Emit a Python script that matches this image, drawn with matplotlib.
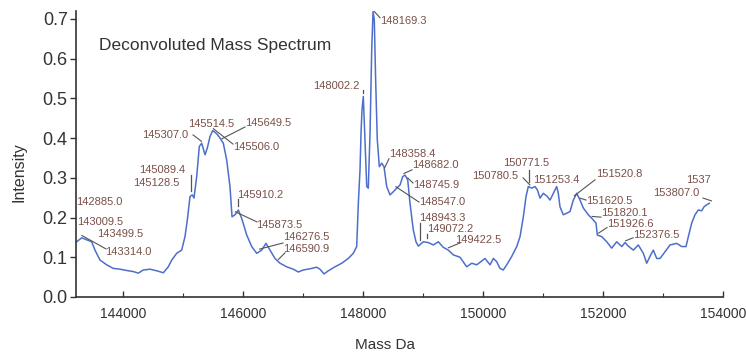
import numpy as np
import matplotlib
matplotlib.use("Agg")
from matplotlib import pyplot as plt
from matplotlib.ticker import MultipleLocator, FormatStrFormatter

# deconvoluted spectrum, mass (Da) vs intensity
mass = [143228, 143312, 143395, 143478, 143533, 143617, 143728, 143838, 143950, 144088,
        144172, 144255, 144338, 144450, 144562, 144672, 144755, 144812, 144895, 144978,
        145033, 145072, 145117, 145155, 145183, 145228, 145272, 145312, 145367, 145405,
        145450, 145495, 145562, 145617, 145672, 145728, 145783, 145817, 145867, 145922,
        145978, 146062, 146145, 146228, 146312, 146383, 146450, 146533, 146617, 146728,
        146838, 146922, 147005, 147117, 147228, 147283, 147350, 147422, 147533, 147645,
        147755, 147838, 147895, 147922, 147950, 147967, 147983, 148005, 148033, 148062,
        148088, 148117, 148145, 148167, 148188, 148212, 148238, 148272, 148312, 148350,
        148395, 148450, 148505, 148562, 148617, 148662, 148700, 148745, 148783, 148838,
        148883, 148922, 149005, 149088, 149172, 149255, 149338, 149422, 149505, 149617,
        149728, 149812, 149895, 150033, 150117, 150172, 150228, 150283, 150338, 150395,
        150478, 150562, 150617, 150672, 150717, 150755, 150812, 150867, 150905, 150950,
        151005, 151072, 151117, 151172, 151228, 151255, 151283, 151338, 151395, 151450,
        151505, 151562, 151617, 151672, 151755, 151838, 151883, 151905, 151978, 152062,
        152145, 152228, 152312, 152367, 152422, 152505, 152588, 152672, 152728, 152795,
        152838, 152895, 152950, 153033, 153117, 153228, 153312, 153383, 153422, 153478,
        153533, 153588, 153645, 153683, 153728, 153772]
intensity = [0.139, 0.149, 0.144, 0.139, 0.118, 0.093, 0.081, 0.072, 0.070, 0.066,
             0.064, 0.060, 0.068, 0.070, 0.066, 0.061, 0.076, 0.093, 0.110, 0.118,
             0.152, 0.194, 0.253, 0.257, 0.249, 0.303, 0.379, 0.387, 0.358, 0.375,
             0.404, 0.419, 0.411, 0.400, 0.387, 0.345, 0.278, 0.202, 0.207, 0.219,
             0.198, 0.156, 0.127, 0.110, 0.118, 0.135, 0.118, 0.097, 0.085, 0.076,
             0.070, 0.063, 0.068, 0.071, 0.075, 0.070, 0.058, 0.066, 0.076, 0.085,
             0.097, 0.110, 0.127, 0.236, 0.320, 0.413, 0.471, 0.505, 0.396, 0.278,
             0.274, 0.412, 0.622, 0.718, 0.698, 0.538, 0.396, 0.328, 0.337, 0.328,
             0.278, 0.257, 0.265, 0.274, 0.282, 0.303, 0.307, 0.295, 0.236, 0.169,
             0.139, 0.128, 0.139, 0.137, 0.131, 0.139, 0.125, 0.118, 0.106, 0.100,
             0.076, 0.085, 0.081, 0.097, 0.081, 0.097, 0.089, 0.072, 0.068, 0.081,
             0.102, 0.127, 0.152, 0.202, 0.253, 0.278, 0.274, 0.278, 0.270, 0.249,
             0.261, 0.253, 0.244, 0.261, 0.278, 0.261, 0.227, 0.207, 0.211, 0.215,
             0.244, 0.261, 0.244, 0.224, 0.207, 0.194, 0.186, 0.156, 0.152, 0.139,
             0.123, 0.139, 0.127, 0.137, 0.128, 0.118, 0.131, 0.110, 0.085, 0.106,
             0.118, 0.097, 0.097, 0.114, 0.131, 0.135, 0.127, 0.127, 0.152, 0.186,
             0.207, 0.219, 0.217, 0.227, 0.232, 0.236]

# peak labels
peak_labels = ["142885.0", "143009.5", "143499.5", "143314.0", "145089.4", "145128.5",
               "145307.0", "145514.5", "145649.5", "145506.0", "145910.2", "145873.5",
               "146276.5", "146590.9", "148002.2", "148169.3", "148358.4", "148682.0",
               "148745.9", "148547.0", "148943.3", "149072.2", "149422.5", "150771.5",
               "150780.5", "151253.4", "151520.8", "151620.5", "151820.1", "151926.6",
               "152376.5", "1537", "153807.0"]

# where each label sits (left edge, vertical centre) and how its leader is drawn:
# 'line' -> slanted line to the given end point, 'tick' -> short vertical mark
label_pos = [(143225, 0.239), (143233, 0.189), (143567, 0.159), (143700, 0.113),
             (144267, 0.320), (144167, 0.287), (144317, 0.408), (145083, 0.436),
             (146033, 0.438), (145833, 0.378), (145900, 0.257), (146217, 0.181),
             (146667, 0.151), (146667, 0.121), (147167, 0.532), (148283, 0.695),
             (148433, 0.360), (148817, 0.333), (148833, 0.282), (148933, 0.239),
             (148933, 0.199), (149067, 0.171), (149533, 0.144), (150333, 0.338),
             (149817, 0.305), (150833, 0.295), (151883, 0.310), (151717, 0.241),
             (151967, 0.212), (152067, 0.185), (152500, 0.156), (153383, 0.295),
             (152833, 0.262)]
leaders = [None, None, None, ('line', 143717, 0.121),
           None, ('tick', 0.307), ('line', 145167, 0.408), None,
           ('line', 146033, 0.428), ('line', 145833, 0.385), ('tick', 0.246), ('line', 146233, 0.189),
           ('line', 146667, 0.136), ('line', 146700, 0.111), ('tick', 0.522), ('line', 148283, 0.703),
           ('line', 148433, 0.348), ('line', 148817, 0.320), ('line', 148833, 0.287), ('line', 148933, 0.239),
           ('tick', 0.186), ('tick', 0.158), ('line', 149617, 0.136), ('tick', 0.320),
           ('line', 150667, 0.300), None, ('line', 151867, 0.295), ('line', 151717, 0.244),
           ('line', 151967, 0.201), ('line', 152067, 0.175), ('line', 152500, 0.149), None,
           ('line', 153667, 0.249)]

plt.rcParams['font.family'] = ['Liberation Sans', 'DejaVu Sans']

fig = plt.figure(figsize=(7.46, 3.58), dpi=100)
ax = fig.add_axes([0.1019, 0.1704, 0.8673, 0.7989])

ax.plot(mass, intensity, color='#4d6fcb', linewidth=1.1)

label_color = '#7a5048'
lead_color = '#555555'
for text, (tx, ty), lead in zip(peak_labels, label_pos, leaders):
    ax.text(tx, ty, text, fontsize=8, color=label_color, ha='left', va='center',
            clip_on=False)
    if lead is None:
        continue
    m = float(text)
    y0 = np.interp(m, mass, intensity)
    if lead[0] == 'tick':
        ax.plot([m, m], [y0 + 0.012, lead[1]], color=lead_color, linewidth=0.9)
    else:
        ax.plot([m, lead[1]], [y0 + 0.006, lead[2]], color=lead_color, linewidth=0.8)

ax.text(0.035, 0.88, 'Deconvoluted Mass Spectrum', transform=ax.transAxes,
        fontsize=12.5, color='#333333', ha='left', va='center')

ax.set_xlim(143217, 154000)
ax.set_ylim(0, 0.72)
ax.spines['top'].set_visible(False)
ax.spines['right'].set_visible(False)
for s in ('left', 'bottom'):
    ax.spines[s].set_color('#333333')
    ax.spines[s].set_linewidth(1.2)

ax.xaxis.set_major_locator(MultipleLocator(2000))
ax.xaxis.set_minor_locator(MultipleLocator(1000))
ax.yaxis.set_major_locator(MultipleLocator(0.1))
ax.yaxis.set_major_formatter(FormatStrFormatter('%.1f'))
ax.tick_params(axis='x', which='major', direction='in', length=4, width=1, colors='#333333',
               labelsize=10, pad=7)
ax.tick_params(axis='x', which='minor', direction='in', length=3, width=0.8, colors='#333333')
ax.tick_params(axis='y', direction='out', length=4, width=1, colors='#333333',
               labelsize=13, pad=2)

fig.text(0.025, 0.52, 'Intensity', rotation=90, fontsize=11.5, color='#333333',
         ha='center', va='center')
fig.text(0.516, 0.035, 'Mass Da', fontsize=11, color='#333333', ha='center', va='center')

fig.savefig('out.png', dpi=100)
